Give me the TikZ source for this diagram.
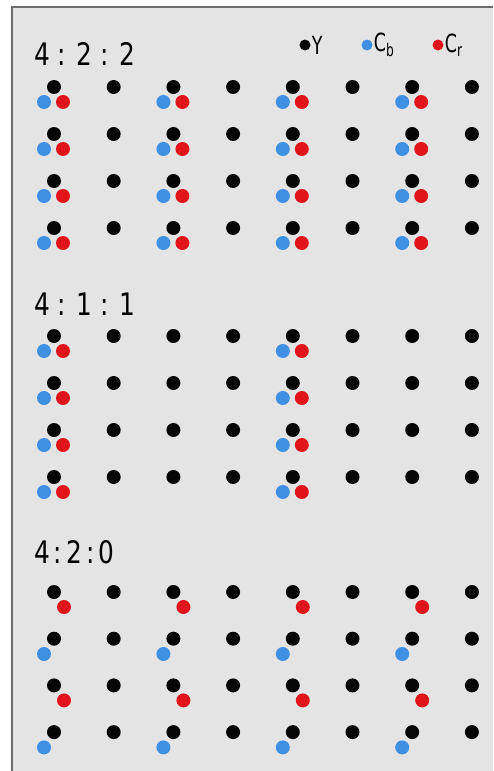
\documentclass[tikz,border=0pt]{standalone}
\usepackage{fontspec}
\usepackage{tikz}
\usetikzlibrary{positioning}
\newfontfamily\ratiofont[FakeStretch=0.8]{DejaVu Sans}
\newfontfamily\legfont[FakeStretch=0.7]{DejaVu Sans}
\definecolor{panelgray}{HTML}{E4E4E4}
\definecolor{framegray}{HTML}{6E6E6E}
\definecolor{lumablack}{HTML}{050505}
\definecolor{cbblue}{HTML}{3F8FE2}
\definecolor{crred}{HTML}{E0141A}

\begin{document}
\begin{tikzpicture}[
  x=1pt, y=-1pt,
  dot/.style={circle, fill=#1, inner sep=0pt, minimum size=14pt},
  ydot/.style={dot=lumablack},
  cbdot/.style={dot=cbblue},
  crdot/.style={dot=crred},
  legdot/.style={circle, fill=#1, inner sep=0pt, minimum size=11pt},
  ratio/.style={anchor=base west, inner sep=0pt,
                font=\ratiofont\fontsize{31}{32}\selectfont},
  legtext/.style={anchor=west, inner sep=0pt,
                  font=\legfont\fontsize{25}{26}\selectfont},
]
\useasboundingbox (0,0) rectangle (493,771);

% Panel
\fill[white] (0,0) rectangle (493,771);
\fill[panelgray] (12,7) rectangle (493,771);
\draw[framegray, line width=2pt] (12,771) -- (12,7) -- (493,7);

% Legend
\node[legdot=lumablack] (ly) at (305,45) {};
\node[legtext, right=1pt of ly.east] (lyt) {Y};
\node[legdot=cbblue] (lcb) at (367,45) {};
\node[legtext, right=1pt of lcb.east] (lcbt) {C\textsubscript{b}};
\node[legdot=crred] (lcr) at (438,45) {};
\node[legtext, right=1pt of lcr.east] (lcrt) {C\textsubscript{r}};

% 4:2:2
\node[ratio] (h422) at (34,65) {4 : 2 : 2};
\foreach \r in {0,...,3} {
  \foreach \c in {0,...,7} {
    \node[ydot] (y422-\r-\c) at ({54+59.7*\c},{87+47*\r}) {};
  }
  \foreach \c in {0,2,4,6} {
    \node[cbdot] (cb422-\r-\c) at ({44+59.7*\c},{102+47*\r}) {};
    \node[crdot] (cr422-\r-\c) at ({63+59.7*\c},{102+47*\r}) {};
  }
}

% 4:1:1
\node[ratio] (h411) at (34,315) {4 : 1 : 1};
\foreach \r in {0,...,3} {
  \foreach \c in {0,...,7} {
    \node[ydot] (y411-\r-\c) at ({54+59.7*\c},{336+47*\r}) {};
  }
  \foreach \c in {0,4} {
    \node[cbdot] (cb411-\r-\c) at ({44+59.7*\c},{351+47*\r}) {};
    \node[crdot] (cr411-\r-\c) at ({63+59.7*\c},{351+47*\r}) {};
  }
}

% 4:2:0
\node[ratio] (h420) at (34,563) {4\hspace{4pt}:\hspace{4pt}2\hspace{4pt}:\hspace{4pt}0};
\foreach \r in {0,...,3} {
  \foreach \c in {0,...,7} {
    \node[ydot] (y420-\r-\c) at ({54+59.7*\c},{592+46.7*\r}) {};
  }
}
\foreach \r in {0,2} {
  \foreach \c in {0,2,4,6} {
    \node[crdot] (cr420-\r-\c) at ({64+59.7*\c},{607+46.7*\r}) {};
  }
}
\foreach \r in {1,3} {
  \foreach \c in {0,2,4,6} {
    \node[cbdot] (cb420-\r-\c) at ({44+59.7*\c},{654+46.7*(\r-1)}) {};
  }
}

\end{tikzpicture}
\end{document}
